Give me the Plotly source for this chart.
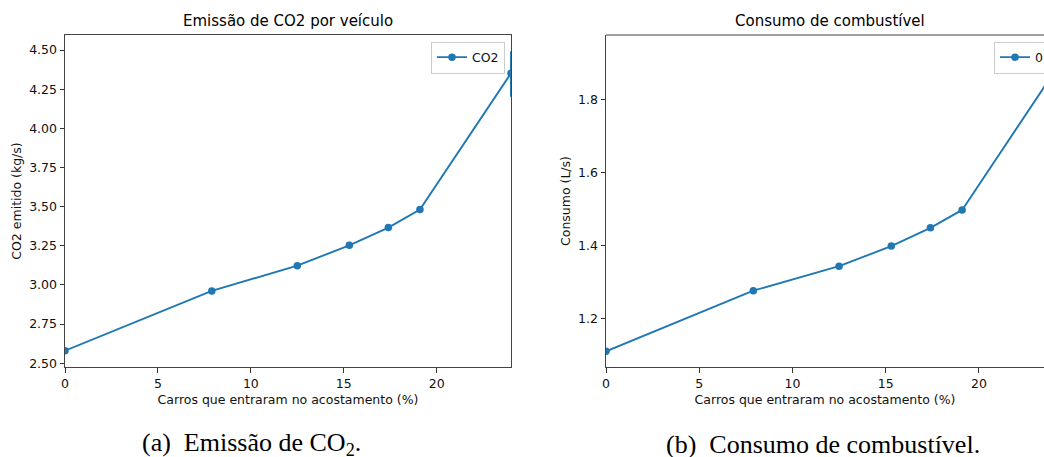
import plotly.graph_objects as go

# ---- data ----
carros_pct = [0, 7.9, 12.5, 15.3, 17.4, 19.1, 24]
co2_kgs = [2.58, 2.962, 3.123, 3.253, 3.366, 3.481, 4.352]
co2_err_plus = [0, 0, 0, 0, 0, 0, 0.14]
co2_err_minus = [0, 0, 0, 0, 0, 0, 0.15]
consumo_ls = [1.110, 1.276, 1.343, 1.398, 1.448, 1.497, 1.872]

co2_ticks = [2.50, 2.75, 3.00, 3.25, 3.50, 3.75, 4.00, 4.25, 4.50]
cons_ticks = [1.2, 1.4, 1.6, 1.8]
x_ticks = [0, 5, 10, 15, 20]

W, H = 1044, 457
BLUE = "#1f77b4"
SANS = "DejaVu Sans"
SERIF = "Liberation Serif"
FS = 12.5

def px(x):
    return x / W

def py(y):
    return 1 - y / H

fig = go.Figure()
fig.add_trace(go.Scatter(
    x=carros_pct, y=co2_kgs, mode="lines+markers", name="CO2",
    line=dict(color=BLUE, width=1.9), marker=dict(color=BLUE, size=7.5),
    error_y=dict(type="data", array=co2_err_plus, arrayminus=co2_err_minus,
                 width=0, thickness=1.9, color=BLUE, symmetric=False),
    xaxis="x", yaxis="y", legend="legend",
))
fig.add_trace(go.Scatter(
    x=carros_pct, y=consumo_ls, mode="lines+markers", name="0",
    line=dict(color=BLUE, width=1.9), marker=dict(color=BLUE, size=7.5),
    xaxis="x2", yaxis="y2", legend="legend2",
))

axcommon = dict(
    showline=True, linecolor="#444", linewidth=1,
    ticks="outside", ticklen=4.5, tickwidth=1, tickcolor="#333",
    showgrid=False, zeroline=False,
    tickfont=dict(family=SANS, size=FS, color="#111"),
)
ytop, ybot = 35, 367

fig.update_layout(
    width=W, height=H,
    margin=dict(l=0, r=0, t=0, b=0, autoexpand=False),
    paper_bgcolor="white", plot_bgcolor="white",
    showlegend=True,
    xaxis=dict(domain=[px(65), px(511)], range=[0, 24], tickvals=x_ticks,
               mirror=True, anchor="y",
               title=dict(text="Carros que entraram no acostamento (%)",
                          font=dict(family=SANS, size=FS, color="#111"), standoff=5),
               **axcommon),
    yaxis=dict(domain=[py(ybot), py(ytop)], range=[2.476, 4.596], tickvals=co2_ticks,
               tickformat=".2f", mirror=True, anchor="x",
               title=dict(text="CO2 emitido (kg/s)",
                          font=dict(family=SANS, size=FS, color="#111"), standoff=4),
               **axcommon),
    xaxis2=dict(domain=[px(606), 1.0], range=[0, 23.49], tickvals=x_ticks,
                mirror=False, anchor="y2",
                title=dict(text="Carros que entraram no acostamento (%)",
                           font=dict(family=SANS, size=FS, color="#111"), standoff=5),
                **axcommon),
    yaxis2=dict(domain=[py(ybot), py(ytop)], range=[1.067, 1.976], tickvals=cons_ticks,
                tickformat=".1f", mirror=False, anchor="x2",
                title=dict(text="Consumo (L/s)",
                           font=dict(family=SANS, size=FS, color="#111"), standoff=4),
                **axcommon),
    legend=dict(x=px(505), y=py(41.5), xanchor="right", yanchor="top",
                bgcolor="rgba(255,255,255,0.8)", bordercolor="#cccccc", borderwidth=1,
                font=dict(family=SANS, size=FS, color="#111"), itemwidth=30),
    legend2=dict(x=px(994), y=py(41.5), xanchor="left", yanchor="top",
                 bgcolor="rgba(255,255,255,0.8)", bordercolor="#cccccc", borderwidth=1,
                 font=dict(family=SANS, size=FS, color="#111"), itemwidth=30),
)

# top spine for the right (cropped) panel
fig.add_shape(type="line", xref="paper", yref="paper", x0=px(606), x1=1.0,
              y0=py(ytop), y1=py(ytop), line=dict(color="#444", width=1))

annots = [
    dict(text="Emissão de CO2 por veículo", x=px(288), y=py(21), size=15, fam=SANS),
    dict(text="Consumo de combustível", x=px(830), y=py(21), size=15, fam=SANS),
    dict(text="(a)  Emissão de CO<sub>2</sub>.", x=px(251.5), y=py(444), size=26, fam=SERIF),
    dict(text="(b)  Consumo de combustível.", x=px(822.5), y=py(444), size=26, fam=SERIF),
]
for a in annots:
    fig.add_annotation(text=a["text"], x=a["x"], y=a["y"], xref="paper", yref="paper",
                       xanchor="center", yanchor="middle", showarrow=False,
                       font=dict(family=a["fam"], size=a["size"], color="#000"))

fig.write_html("out.html",
               config={"displayModeBar": False},
               post_script="document.body.style.margin='0';document.body.style.overflow='hidden';")
